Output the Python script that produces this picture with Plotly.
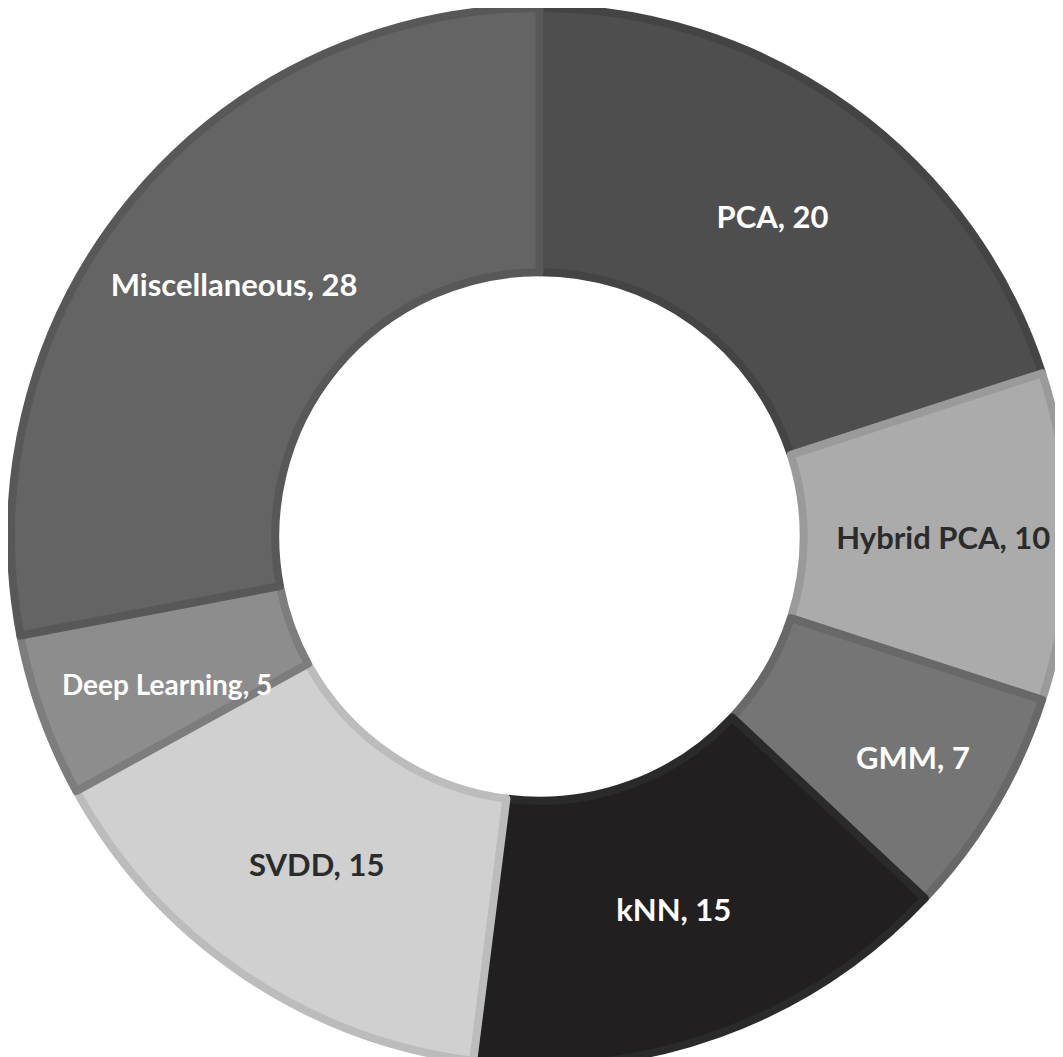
import plotly.graph_objects as go

# --- Daten ---
labels = ['PCA', 'Hybrid PCA', 'GMM', 'kNN', 'SVDD', 'Deep Learning', 'Miscellaneous']
values = [20, 10, 7, 15, 15, 5, 28]

fill_colors = ['#4e4e4e', '#ababab', '#757575', '#221f20', '#d0d0d0', '#8d8d8d', '#646464']
edge_colors = ['#444444', '#9a9a9a', '#686868', '#2a2a2a', '#bcbcbc', '#7d7d7d', '#585858']
text_colors = ['white', '#2b2b2b', 'white', 'white', '#2b2b2b', 'white', 'white']

# Deep Learning ist zu schmal fuer Plotlys Inside-Text -> separat als Annotation
text_pos = ['none' if l == 'Deep Learning' else 'inside' for l in labels]
dl = labels.index('Deep Learning')

font_family = 'Lato'

fig = go.Figure(go.Pie(
    labels=labels,
    values=values,
    hole=0.5,
    sort=False,
    direction='clockwise',
    rotation=0,
    marker=dict(colors=fill_colors, line=dict(color=edge_colors, width=8)),
    texttemplate='%{label}, %{value}',
    textposition=text_pos,
    insidetextorientation='horizontal',
    textfont=dict(family=font_family, size=31, color=text_colors, weight='bold'),
    showlegend=False,
))

fig.update_layout(
    width=1063, height=1057,
    margin=dict(l=0, r=0, t=0, b=0),
    paper_bgcolor='white',
    annotations=[
        dict(
            text=f'{labels[dl]}, {values[dl]}',
            xref='paper', yref='paper',
            x=0.15, y=0.36,
            xanchor='center', yanchor='middle',
            showarrow=False,
            font=dict(family=font_family, size=28, color=text_colors[dl], weight='bold'),
        )
    ]
)

fig.write_html('out.html')
